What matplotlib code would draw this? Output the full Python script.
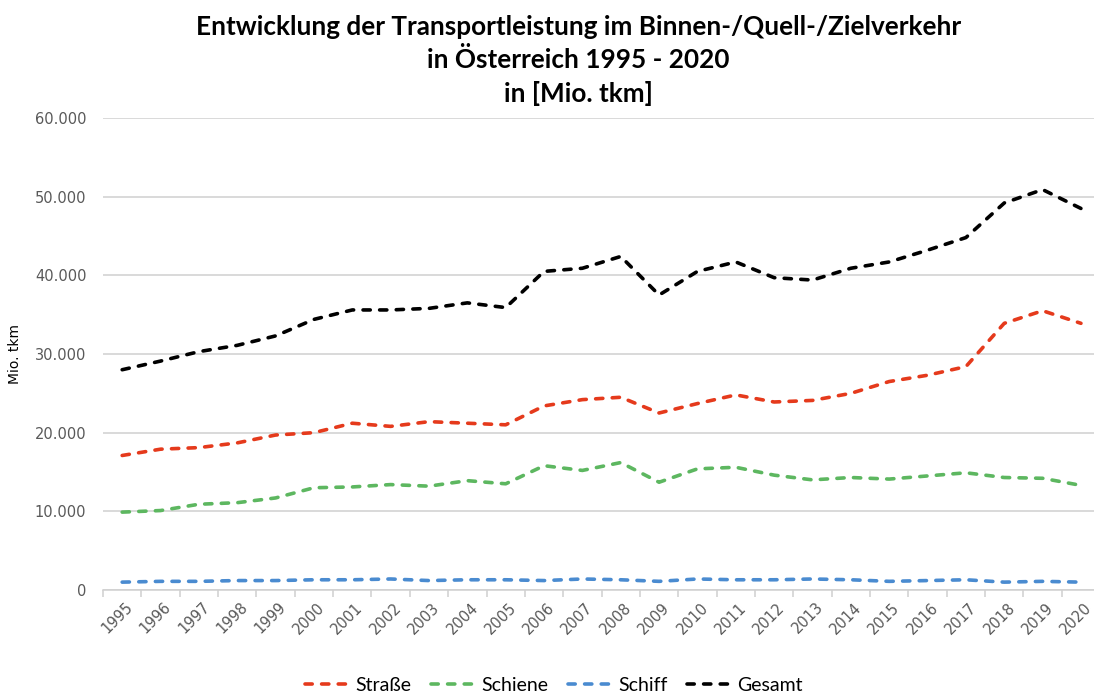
import numpy as np
import matplotlib
matplotlib.use("Agg")
import matplotlib.pyplot as plt
from matplotlib.ticker import FuncFormatter, FixedLocator
import matplotlib.transforms as mtransforms

years = [str(y) for y in range(1995, 2021)]

# Mio. tkm
strasse = [17.1, 17.9, 18.1, 18.7, 19.7, 20.0, 21.2, 20.8, 21.4, 21.2, 21.0, 23.4, 24.2,
           24.5, 22.5, 23.7, 24.8, 23.9, 24.1, 25.0, 26.5, 27.3, 28.4, 33.9, 35.5, 33.9]
schiene = [9.9, 10.1, 10.9, 11.1, 11.7, 13.0, 13.1, 13.4, 13.2, 13.9, 13.5, 15.8, 15.2,
           16.2, 13.7, 15.4, 15.6, 14.6, 14.0, 14.3, 14.1, 14.5, 14.9, 14.3, 14.2, 13.3]
schiff = [1.0, 1.1, 1.1, 1.2, 1.2, 1.3, 1.3, 1.4, 1.2, 1.3, 1.3, 1.2, 1.4,
          1.3, 1.1, 1.4, 1.3, 1.3, 1.4, 1.3, 1.1, 1.2, 1.3, 1.0, 1.1, 1.0]
gesamt = [28.0, 29.1, 30.3, 31.1, 32.3, 34.4, 35.6, 35.6, 35.8, 36.5, 35.9, 40.5, 40.9,
          42.4, 37.5, 40.5, 41.7, 39.7, 39.4, 40.9, 41.7, 43.2, 44.8, 49.2, 50.9, 48.5]

series = [("Straße", strasse, "#E53A1C"),
          ("Schiene", schiene, "#5DB760"),
          ("Schiff", schiff, "#4A8BD0"),
          ("Gesamt", gesamt, "#000000")]

title = ("Entwicklung der Transportleistung im Binnen-/Quell-/Zielverkehr\n"
         "in Österreich 1995 - 2020\nin [Mio. tkm]")

plt.rcParams['font.family'] = ['DejaVu Sans']

fig = plt.figure(figsize=(10.94, 6.95), dpi=100)
ax = fig.add_axes([103 / 1094, 1 - 590 / 695, 1 - 103 / 1094, (590 - 118) / 695])

x = np.arange(len(years))
for name, vals, col in series:
    ax.plot(x, np.array(vals) * 1000, color=col, lw=2.6, dashes=(2.0, 2.6),
            dash_capstyle='round', solid_joinstyle='round', label=name)

ax.set_ylim(0, 60000)
ax.set_xlim(-0.5, 25.34)
ax.set_yticks(np.arange(0, 60001, 10000))
ax.yaxis.set_major_formatter(FuncFormatter(lambda v, p: f"{v:,.0f}".replace(",", ".")))
ax.grid(axis='y', color='#d0d0d0', lw=1.1)
ax.set_axisbelow(True)

for s in ['top', 'right', 'left']:
    ax.spines[s].set_visible(False)
ax.spines['bottom'].set_color('#d0d0d0')
ax.spines['bottom'].set_linewidth(1.1)

ax.tick_params(axis='y', length=0, labelsize=10.5, labelcolor='#595959', pad=12)
ax.xaxis.set_major_locator(FixedLocator(np.arange(-0.5, 25.5, 1)))
ax.xaxis.set_minor_locator(FixedLocator(x))
ax.tick_params(axis='x', which='major', length=5, color='#d0d0d0', width=1.1, labelbottom=False)
ax.tick_params(axis='x', which='minor', length=0, labelsize=10.5, labelcolor='#595959', pad=7)
ax.set_xticklabels(years, minor=True, rotation=45, ha='right', va='top', rotation_mode='anchor')
off = mtransforms.ScaledTranslation(3 / 100, 0, fig.dpi_scale_trans)
for lbl in ax.xaxis.get_minorticklabels():
    lbl.set_transform(lbl.get_transform() + off)

ax.set_ylabel("Mio. tkm", fontsize=10, labelpad=9)

fig.text(0.529, 0.979, title, ha='center', va='top', fontsize=18.8, fontweight='bold',
         family='Lato', linespacing=1.42)

ax.legend(loc='lower center', bbox_to_anchor=(0.455, -0.258), ncol=4, frameon=False,
          prop={'family': 'Lato', 'size': 14}, handlelength=2.5, handletextpad=0.1,
          columnspacing=1.0, bbox_transform=ax.transAxes)

fig.savefig("out.png", dpi=100)
